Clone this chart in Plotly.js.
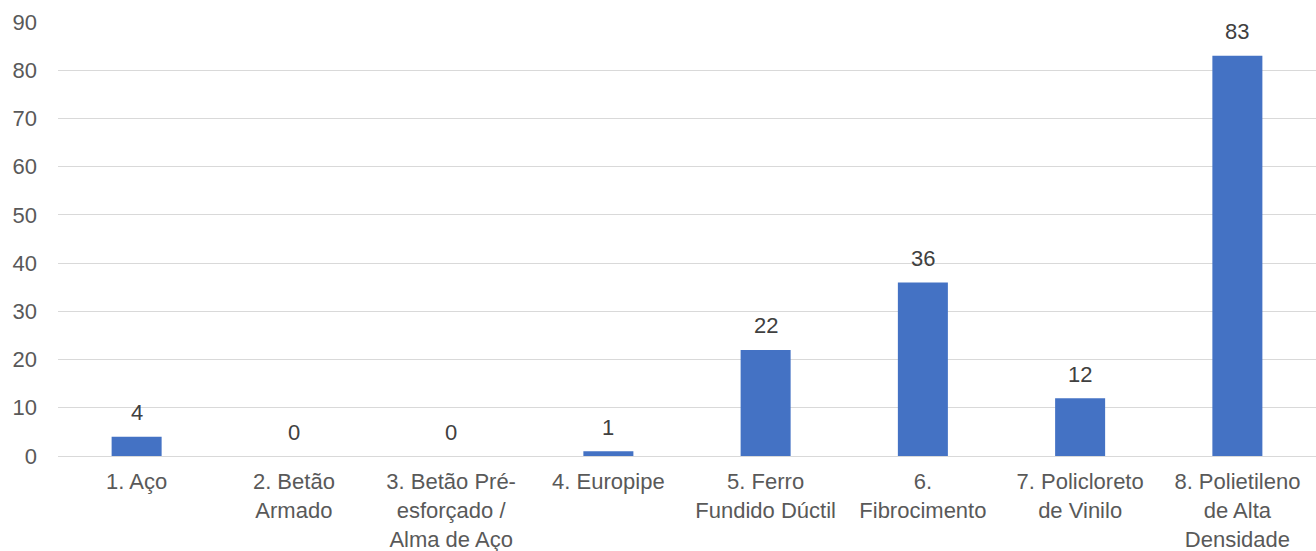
<!DOCTYPE html>
<html>
<head>
<meta charset="utf-8">
<script src="https://cdn.plot.ly/plotly-3.0.1.min.js"></script>
<style>html,body{margin:0;padding:0;background:#fff;}#chart{width:1316px;height:551px;}</style>
</head>
<body>
<div id="chart"></div>
<script>
// Pipe material categories and counts
const categories = [
  "1. Aço",
  "2. Betão<br>Armado",
  "3. Betão Pré-<br>esforçado /<br>Alma de Aço",
  "4. Europipe",
  "5. Ferro<br>Fundido Dúctil",
  "6.<br>Fibrocimento",
  "7. Policloreto<br>de Vinilo",
  "8. Polietileno<br>de Alta<br>Densidade"
];
const counts = [4, 0, 0, 1, 22, 36, 12, 83];
const yTicks = [0, 10, 20, 30, 40, 50, 60, 70, 80, 90];

const fontFamily = "Liberation Sans, Arial, sans-serif";
const textColor = "#595959";
const fontSize = 22;

const trace = {
  type: "bar",
  x: categories,
  y: counts,
  marker: { color: "#4472C4" },
  hoverinfo: "x+y"
};

// Value labels above each bar
const annotations = categories.map((c, i) => ({
  x: c,
  y: counts[i],
  xref: "x",
  yref: "y",
  text: String(counts[i]),
  showarrow: false,
  yanchor: "middle",
  yshift: 24,
  font: { family: fontFamily, size: fontSize, color: "#404040" }
}));

const layout = {
  width: 1316,
  height: 551,
  margin: { l: 58, r: 0, t: 22, b: 95 },
  paper_bgcolor: "#ffffff",
  plot_bgcolor: "#ffffff",
  bargap: 0.682,
  showlegend: false,
  font: { family: fontFamily, size: fontSize, color: textColor },
  xaxis: {
    type: "category",
    showgrid: false,
    showline: true,
    linecolor: "#d9d9d9",
    linewidth: 1,
    ticks: "",
    ticklabelstandoff: 6,
    tickfont: { family: fontFamily, size: fontSize, color: textColor },
    tickangle: 0,
    automargin: false
  },
  yaxis: {
    range: [0, 90],
    tickvals: yTicks,
    ticktext: yTicks.map(String),
    showgrid: true,
    gridcolor: "#d9d9d9",
    gridwidth: 1,
    zeroline: false,
    showline: false,
    ticks: "",
    ticklabelstandoff: 20,
    tickfont: { family: fontFamily, size: fontSize, color: textColor },
    automargin: false
  },
  annotations: annotations
};

Plotly.newPlot("chart", [trace], layout, { displayModeBar: false, staticPlot: true });
</script>
</body>
</html>
